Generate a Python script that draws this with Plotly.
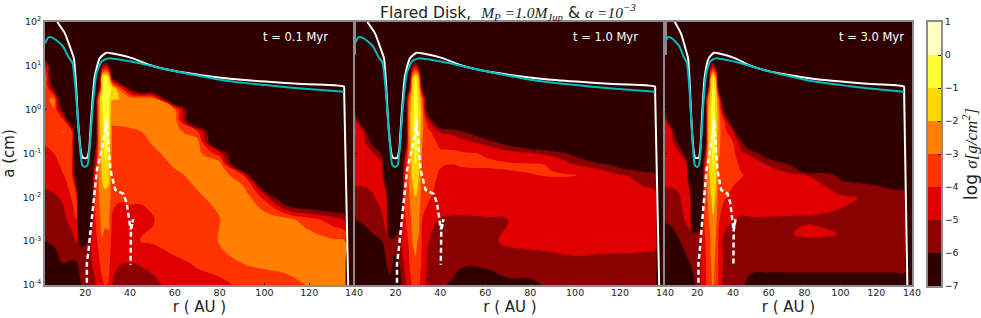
import plotly.graph_objects as go

W, H = 981, 318

r_cols = [2, 6, 10, 14, 16, 17.5, 19, 20.5, 22, 24, 26, 27.5, 29, 30.5, 32, 35, 40, 45, 50, 60, 70, 80, 90, 100, 110, 120, 130, 136, 137]
log_a_rows = [-4, -3.5, -3, -2.5, -2, -1.5, -1.25, -1, -.75, -.5, -.25, 0, .25, .5, .75, 1, 1.25]
log_a_rows_c = [-4, -3.5, -2.85, -2.5, -2, -1.5, -1.25, -1, -.75, -.5, -.25, 0, .25, .5, .75, 1, 1.25]

def col(*v):
    return list(v) + [-9] * (len(log_a_rows) - len(v))

sigma_01 = [
    col(-6.8,-6.4,-6.0,-5.6,-5.2,-4.7,-4.4,-4.15,-3.95,-3.75,-3.6,-3.4,-3.2,-2.9,-2.7,-3.2),
    col(-6.7,-6.3,-5.9,-5.5,-5.1,-4.6,-4.3,-4.0,-3.8,-3.6,-3.3,-3.05,-2.8,-6.5),
    col(-6.3,-6.0,-5.6,-5.2,-4.9,-4.05,-3.8,-3.6,-3.3,-2.95,-3.4,-6.5),
    col(-6.4,-6.1,-5.3,-4.7,-3.9,-3.7,-3.65,-3.6,-3.7,-3.8,-8),
    col(-6.6,-6.1,-4.9,-4.0,-3.7,-7.5),
    col(-6.5,-5.1,-6.3),
    col(-5.6,-5.7,-6.1),
    col(-5.3,-5.4,-6.1),
    col(-5.0,-5.2,-5.3,-8),
    col(-5.3,-4.7,-4.4,-4.2,-4.0,-4.6,-5.5,-6.5),
    col(-4.6,-4.2,-3.8,-3.4,-3.1,-2.9,-2.8,-2.7,-2.6,-2.5,-2.4,-2.4,-2.6,-7),
    col(-4.2,-3.6,-3.1,-2.6,-2.2,-1.9,-1.75,-1.6,-1.45,-1.3,-1.2,-1.1,-1.0,-1.2,-1.6,-6),
    col(-3.9,-3.6,-3.3,-2.8,-2.3,-1.5,-1.1,-.85,-.75,-.7,-.6,-.55,-.5,-.5,-.7,-5),
    col(-4.1,-3.7,-3.2,-2.8,-2.3,-1.8,-1.55,-1.3,-1.05,-.9,-.8,-.8,-.8,-.85,-1.5,-6),
    col(-5,-4.7,-4.5,-4.1,-3.7,-3.4,-3.3,-3.2,-3.15,-3.1,-2.9,-2.6,-1.9,-1.1,-6.5),
    col(-5.3,-4.95,-4.6,-4.3,-3.9,-3.5,-3.4,-3.3,-3.15,-3.05,-2.95,-2.7,-2.0,-3.2),
    col(-5.6,-5,-4.6,-4.2,-3.9,-3.6,-3.45,-3.3,-3.15,-3.05,-2.9,-2.6,-2.3,-6.5),
    col(-5.5,-4.9,-3.95,-4.2,-3.9,-3.7,-3.55,-3.4,-3.2,-3.0,-2.9,-2.7,-2.4),
    col(-5.3,-4.7,-3.9,-4.05,-3.8,-3.6,-3.4,-3.15,-2.95,-2.8,-2.7,-2.6,-2.5),
    col(-4.6,-4.2,-3.6,-3.5,-3.4,-3.15,-2.9,-2.75,-2.65,-2.6,-2.5,-2.95),
    col(-4.3,-3.9,-3.5,-3.3,-3.1,-2.8,-2.7,-2.6,-2.5,-3.8),
    col(-4.4,-3.3,-2.95,-3.02,-2.8,-2.5,-2.4,-4.5),
    col(-3.7,-3.0,-2.6,-2.4,-2.2,-3.6),
    col(-3.4,-2.85,-2.5,-2.3,-4.3,-11),
    col(-3.25,-2.75,-2.5,-2.7,-8),
    col(-2.95,-2.7,-2.4,-3.6),
    col(-2.8,-2.6,-2.8,-4.5),
    col(-2.7,-2.6,-3.0,-5.2),
    col(),
]

sigma_10 = [
    col(-7,-6.7,-6.3,-6,-5.3,-4.7,-4.45,-4.2,-4.05,-3.9,-4.3,-6.5),
    col(-7,-6.7,-6.3,-5.9,-5.2,-4.8,-4.65,-4.5,-4.7,-5.1),
    col(-7,-6.8,-6.2,-5.6,-5.05,-4.8,-4.8,-4.85,-6.5),
    col(-7,-6.7,-6,-5.1,-4.8,-4.6,-4.7,-6.2),
    col(-7,-6,-5.1,-4.8,-4.9,-8),
    col(-6.9,-5.0,-5.7,-7.5),
    col(-6.5,-6.1,-5.8,-7.5),
    col(-6.5,-6.2,-5.6,-7),
    col(-6.4,-5.9,-5.3,-6.5),
    col(-5.3,-4.8,-4.5,-4.2,-4,-4.4,-4.9,-6.2),
    col(-4.5,-4.1,-3.9,-3.5,-3.2,-2.9,-2.75,-2.6,-2.6,-2.6,-2.5,-2.7,-3.2,-6.5),
    col(-3.9,-3.4,-3,-2.7,-2.3,-1.9,-1.7,-1.5,-1.4,-1.3,-1.3,-1.4,-1.5,-1.8,-2.5,-6),
    col(-3.4,-3.05,-2.9,-2.5,-2.05,-1.2,-1.0,-.8,-.7,-.6,-.5,-.5,-.5,-.5,-.8,-5),
    col(-3.9,-3.5,-3.1,-2.8,-2.4,-2,-1.75,-1.5,-1.4,-1.3,-1.25,-1.3,-1.5,-1.9,-2.8,-6.5),
    col(-4.4,-4.3,-4.25,-4,-3.7,-3.4,-3.3,-3.15,-3,-2.9,-2.75,-2.65,-3.2,-6.5),
    col(-5.6,-5.3,-5,-4.5,-3.9,-3.7,-3.6,-3.5,-3.6,-3.8,-5),
    col(-5.9,-5.6,-5.4,-5.05,-4.5,-4.1,-3.95,-3.85,-4.2,-5.1,-8),
    col(-6.1,-5.7,-5.4,-5.1,-4.55,-4.2,-4.0,-3.85,-4.3,-5.3),
    col(-6.4,-5.9,-5.5,-5.1,-4.55,-4.15,-3.95,-3.9,-4.6,-6),
    col(-6.6,-5.8,-5.3,-5.05,-4.6,-4.2,-3.9,-4.05,-5.3,-7.5),
    col(-6.2,-5.6,-4.8,-5.02,-4.7,-4.1,-3.9,-4.4,-6.6),
    col(-6.2,-5.5,-4.7,-4.8,-4.6,-4.02,-3.92,-4.9,-7.6),
    col(-5.8,-5.3,-4.7,-4.6,-4.5,-3.97,-4.05,-5.3),
    col(-5.6,-5.2,-4.6,-4.5,-4.35,-3.98,-5.0,-6.4),
    col(-5.6,-5.2,-4.7,-4.6,-4.5,-4.3,-5.5),
    col(-5.6,-5.2,-4.75,-4.7,-4.6,-4.9,-6.5),
    col(-5.6,-5.2,-4.8,-4.8,-4.7,-5.25,-7.5),
    col(-5.6,-5.25,-4.85,-4.85,-4.75,-5.6),
    col(),
]

sigma_30 = [
    col(-7,-6.7,-6.3,-5.9,-5.3,-4.7,-4.45,-4.2,-4.05,-3.95,-4.3,-6.5),
    col(-7,-6.7,-6.2,-5.8,-5.15,-4.8,-4.6,-4.5,-4.7,-5.1),
    col(-7,-6.6,-5.9,-5.5,-5.05,-4.8,-4.8,-4.85,-6.5),
    col(-6.8,-6.2,-5.5,-4.8,-4.7,-4.5,-4.9,-7),
    col(-6.9,-6,-5.1,-4.8,-4.9,-8),
    col(-6.8,-5.5,-5.8,-7.5),
    col(-5.8,-5.7,-5.7,-8),
    col(-5.7,-5.6,-5.6,-8),
    col(-5,-5,-5.3,-7),
    col(-4.2,-4.2,-4.1,-3.9,-3.7,-4.3,-4.8,-6.3),
    col(-3.8,-3.7,-3.5,-3.2,-2.9,-2.5,-2.3,-2.2,-2.2,-2.2,-2.2,-2.3,-2.8,-6.5),
    col(-3.1,-3.05,-2.9,-2.5,-2.1,-1.7,-1.5,-1.3,-1.2,-1.2,-1.2,-1.3,-1.5,-1.8,-2.5,-6),
    col(-2.9,-2.8,-2.4,-2.1,-1.6,-1,-.85,-.7,-.55,-.5,-.45,-.45,-.45,-.5,-.8,-5),
    col(-3.3,-3.2,-3,-2.7,-2.2,-1.8,-1.6,-1.4,-1.3,-1.25,-1.25,-1.3,-1.5,-1.9,-2.8,-6.5),
    col(-4.2,-4.1,-4.1,-3.9,-3.6,-3.2,-3.05,-2.9,-2.8,-2.7,-2.65,-2.7,-3.2,-6.5),
    col(-5.4,-5.2,-5,-4.5,-3.9,-3.55,-3.5,-3.45,-3.5,-3.6,-3.9,-6.5),
    col(-5.8,-5.7,-5.5,-4.95,-4.2,-3.8,-3.7,-3.75,-3.95,-4.9,-8),
    col(-5.95,-5.7,-5.5,-5.1,-4.5,-3.95,-4.2,-4.8,-5.8),
    col(-6.15,-5.85,-5.5,-5.05,-4.6,-4.2,-4.4,-5.2,-8),
    col(-6.2,-5.85,-5.5,-5.05,-4.6,-4.5,-5.1,-7),
    col(-6.2,-5.85,-5.05,-5.05,-4.7,-4.7,-5.8),
    col(-6.2,-5.85,-4.92,-5.05,-4.75,-4.95),
    col(-6.2,-5.85,-4.92,-5.1,-4.7,-5.2),
    col(-6.2,-5.85,-5.02,-5.15,-4.85,-6.3),
    col(-6.2,-5.85,-5.2,-5.3,-5.01,-6.5),
    col(-6.2,-5.85,-5.3,-5.4,-5.3,-6.6),
    col(-6.2,-5.85,-5.35,-5.45,-5.45,-7),
    col(-6.2,-5.85,-5.4,-5.5,-5.6,-7),
    col(),
]

white_r = [7.5,10.9,13.1,14.9,15.8,16.8,18.3,19,20.8,21.7,22.7,24.2,26.4,29.4,32.4,41.3,48.7,56,71,85.7,100.5,115,135.5,135.6,137.4]
white_log_a = [2,1.74,1.44,1.17,.6,-.3,-1.03,-1.1,-1.1,-.92,-.16,.75,1.17,1.3,1.28,1.17,1.02,.92,.79,.7,.64,.59,.53,.4,-4]
cyan_r = [2,3.5,5,7.9,10.1,12.4,14.3,15.8,17.1,18.6,19.8,21,22,23.2,25,27.3,30.2,36.9,44.3,56,71,85.7,100.5,115,135.5]
cyan_log_a = [1.51,1.65,1.65,1.55,1.44,1.21,1.06,.38,-.53,-1.26,-1.31,-1.26,-.84,0,.83,1.1,1.17,1.13,1.06,.92,.77,.64,.56,.49,.41]
dash_r = [20.7,20.7,21.4,22.2,23.7,25.2,27.3,28.8,29.3,30,31.2,33.4,37,38.5,39.5,40.2,41.4,40.4,40.2]
dash_log_a = [-3.95,-3.5,-3.23,-2.81,-2.05,-1.37,-.92,-.54,-.23,-.69,-1.37,-1.83,-1.92,-2.13,-2.5,-2.73,-2.5,-2.75,-3.54]

panel_names = ["t = 0.1 Myr", "t = 1.0 Myr", "t = 3.0 Myr"]
x_ticks = [20, 40, 60, 80, 100, 120, 140]
y_ticks = [1e-4, 1e-3, 1e-2, 1e-1, 1, 10, 100]
y_tick_text = ["10<sup>-4</sup>", "10<sup>-3</sup>", "10<sup>-2</sup>", "10<sup>-1</sup>", "10<sup>0</sup>", "10<sup>1</sup>", "10<sup>2</sup>"]
band_colors = ["#300000", "#8b0000", "#e00000", "#ff3300", "#ff8000", "#ffd700", "#ffff33", "#ffffc0"]
band_mids = [-6.5, -5.5, -4.5, -3.5, -2.5, -1.5, -0.5, 0.5]
cbar_ticks = [-7, -6, -5, -4, -3, -2, -1, 0, 1]

colorscale = []
for i, c in enumerate(band_colors):
    colorscale += [[i / 8, c], [(i + 1) / 8, c]]

def pw(v):
    return 10 ** v

panels = [(45, 354, sigma_01, log_a_rows), (355, 665, sigma_10, log_a_rows), (665, 912, sigma_30, log_a_rows_c)]
fig = go.Figure()
FRAME = "#8c8c8c"
INK = "#222222"
for i, (x0, x1, sig, rows) in enumerate(panels):
    n = "" if i == 0 else str(i + 1)
    z = [[c[k] for c in sig] for k in range(len(rows))]
    fig.add_trace(go.Contour(
        x=r_cols, y=[pw(v) for v in rows], z=z, xaxis="x" + n, yaxis="y" + n,
        colorscale=colorscale, zmin=-7, zmax=1, autocontour=False,
        contours=dict(coloring="fill", start=-7, end=1, size=1, showlines=False),
        line=dict(width=0, smoothing=1.3), showscale=False, hoverinfo="skip"))
    fig.add_trace(go.Scatter(x=white_r, y=[pw(v) for v in white_log_a], mode="lines", xaxis="x" + n, yaxis="y" + n,
                             line=dict(color="white", width=2, shape="spline", smoothing=0.5), hoverinfo="skip", showlegend=False))
    fig.add_trace(go.Scatter(x=cyan_r, y=[pw(v) for v in cyan_log_a], mode="lines", xaxis="x" + n, yaxis="y" + n,
                             line=dict(color="#00bcbe", width=2, shape="spline", smoothing=0.5), hoverinfo="skip", showlegend=False))
    fig.add_trace(go.Scatter(x=dash_r, y=[pw(v) for v in dash_log_a], mode="lines", xaxis="x" + n, yaxis="y" + n,
                             line=dict(color="white", width=2.5, dash="5px,3px"), hoverinfo="skip", showlegend=False))
    xa = dict(domain=[x0 / W, x1 / W], range=[2, 140], anchor="y" + n, tickvals=x_ticks, ticks="inside", ticklen=2, automargin=False,
              tickcolor=INK, showgrid=False, zeroline=False, showline=True, linecolor=FRAME, linewidth=1.5, mirror=True,
              tickfont=dict(family="DejaVu Sans", size=9.5, color=INK), ticklabelstandoff=-2,
              title=dict(text="r ( AU )", font=dict(family="DejaVu Sans", size=15, color=INK), standoff=2))
    ya = dict(domain=[1 - 285 / H, 1 - 22 / H], type="log", range=[-4, 2], anchor="x" + n, tickvals=y_ticks, automargin=False,
              ticktext=y_tick_text, ticks="inside", ticklen=2, tickcolor=INK, showgrid=False, zeroline=False,
              showline=True, linecolor=FRAME, linewidth=1.5, mirror=True, showticklabels=(i == 0),
              tickfont=dict(family="DejaVu Sans", size=9.5, color=INK))
    if i == 0:
        ya["title"] = dict(text="a (cm)", font=dict(family="DejaVu Sans", size=15, color=INK), standoff=6)
    fig.update_layout({"xaxis" + n: xa, "yaxis" + n: ya})

# colour key: one cell per band, on its own axes
fig.add_trace(go.Heatmap(x=[0], y=band_mids, z=[[m] for m in band_mids], xaxis="x4", yaxis="y4",
                         colorscale=colorscale, zmin=-7, zmax=1, showscale=False, hoverinfo="skip"))
fig.update_layout(
    xaxis4=dict(domain=[928 / W, 941 / W], range=[-0.5, 0.5], anchor="y4", showticklabels=False, ticks="", automargin=False,
                showgrid=False, zeroline=False, showline=True, linecolor=FRAME, linewidth=1.5, mirror=True),
    yaxis4=dict(domain=[1 - 286 / H, 1 - 22 / H], range=[-7, 1], anchor="x4", side="right", tickvals=cbar_ticks, automargin=False,
                ticktext=[str(v).replace("-", "\u2212") for v in cbar_ticks], ticks="inside", ticklen=3, tickcolor=INK,
                showgrid=False, zeroline=False, showline=True, linecolor=FRAME, linewidth=1.5, mirror=True,
                tickfont=dict(family="DejaVu Sans", size=9.5, color=INK),
                title=dict(text='log <i><span style="font-family:Liberation Serif">\u03c3[g/cm<sup>2</sup>]</span></i>',
                           font=dict(family="DejaVu Sans", size=17, color=INK), standoff=4)))

labels_x = [330, 640, 906]
annots = [dict(x=lx / W, y=1 - 37 / H, xref="paper", yref="paper", xanchor="right", yanchor="middle", showarrow=False,
               text=t, font=dict(family="DejaVu Sans", size=11.5, color="white")) for lx, t in zip(labels_x, panel_names)]
serif = '<span style="font-family:Liberation Serif"><i>{}</i></span>'
title_text = ("Flared Disk,  " + serif.format("M<sub>P</sub> =1.0M<sub>Jup</sub>") + " &amp; "
              + serif.format("\u03b1 =10<sup>\u22123</sup>"))
annots.append(dict(x=508 / W, y=1 - 12 / H, xref="paper", yref="paper", xanchor="center", yanchor="middle",
                   showarrow=False, text=title_text, font=dict(family="DejaVu Sans", size=15.5, color=INK)))

fig.update_layout(width=W, height=H, margin=dict(l=0, r=0, t=0, b=0), autosize=False, showlegend=False,
                  paper_bgcolor="white", plot_bgcolor="#300000", annotations=annots)
fig.write_html("out.html", post_script="document.body.style.margin='0';", config={"displayModeBar": False})
